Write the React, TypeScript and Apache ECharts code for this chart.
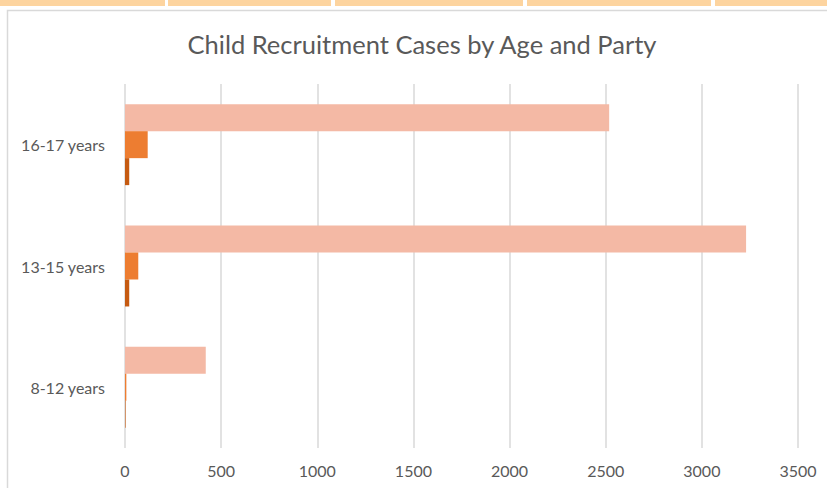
import React, { useEffect, useRef } from "react";
import * as echarts from "echarts";

const categories = ["8-12 years", "13-15 years", "16-17 years"];
const seriesNames = ["Party A", "Party B", "Party C"];
const partyA = [420, 3230, 2518];
const partyB = [7, 69, 118];
const partyC = [3, 22, 22];
const xTicks = [0, 500, 1000, 1500, 2000, 2500, 3000, 3500];
const stripCells = [
  [0, 165],
  [168, 331],
  [335, 523],
  [527, 711],
  [715, 827],
];

export default function App() {
  const ref = useRef<HTMLDivElement>(null);
  useEffect(() => {
    if (!ref.current) return;
    const chart = echarts.init(ref.current, undefined, { renderer: "svg" });
    const font = "Lato, 'Open Sans', sans-serif";
    const colors = ["#F4B9A5", "#ED7D31", "#C55A11"];
    const values = [partyA, partyB, partyC];
    chart.setOption({
      animation: false,
      backgroundColor: "#ffffff",
      title: {
        text: "Child Recruitment Cases by Age and Party",
        left: 417,
        textAlign: "center",
        top: 26,
        textStyle: { fontFamily: font, fontSize: 25.5, fontWeight: "normal", color: "#595959" },
      },
      graphic: [
        ...stripCells.map(([a, b]) => ({
          type: "rect",
          shape: { x: a, y: 0, width: b - a, height: 6 },
          style: { fill: "#FDD49F" },
          silent: true,
        })),
        {
          type: "polyline",
          shape: { points: [[7.5, 488], [7.5, 10.5], [827, 10.5]] },
          style: { stroke: "#D9D9D9", lineWidth: 1.5, fill: null },
          silent: true,
        },
      ],
      grid: { left: 125, right: 29, top: 84, bottom: 40, containLabel: false },
      xAxis: {
        type: "value",
        min: 0,
        max: xTicks[xTicks.length - 1],
        interval: 500,
        axisLine: { show: false },
        axisTick: { show: false },
        splitLine: { show: true, lineStyle: { color: "#D9D9D9", width: 1.5 } },
        axisLabel: {
          fontFamily: font,
          fontSize: 16,
          color: "#595959",
          margin: 14,
          formatter: (v: number) => String(v),
        },
      },
      yAxis: {
        type: "category",
        data: categories,
        axisLine: { show: false },
        axisTick: { show: false },
        axisLabel: { fontFamily: font, fontSize: 16, color: "#595959", margin: 20 },
      },
      series: seriesNames.map((name, i) => ({
        name,
        type: "bar",
        data: values[i],
        barGap: "0%",
        barCategoryGap: "33.3%",
        itemStyle: { color: colors[i] },
      })),
    });
    return () => chart.dispose();
  }, []);
  return (
    <div
      ref={ref}
      style={{ position: "fixed", left: 0, top: 0, width: 827, height: 488 }}
    />
  );
}
